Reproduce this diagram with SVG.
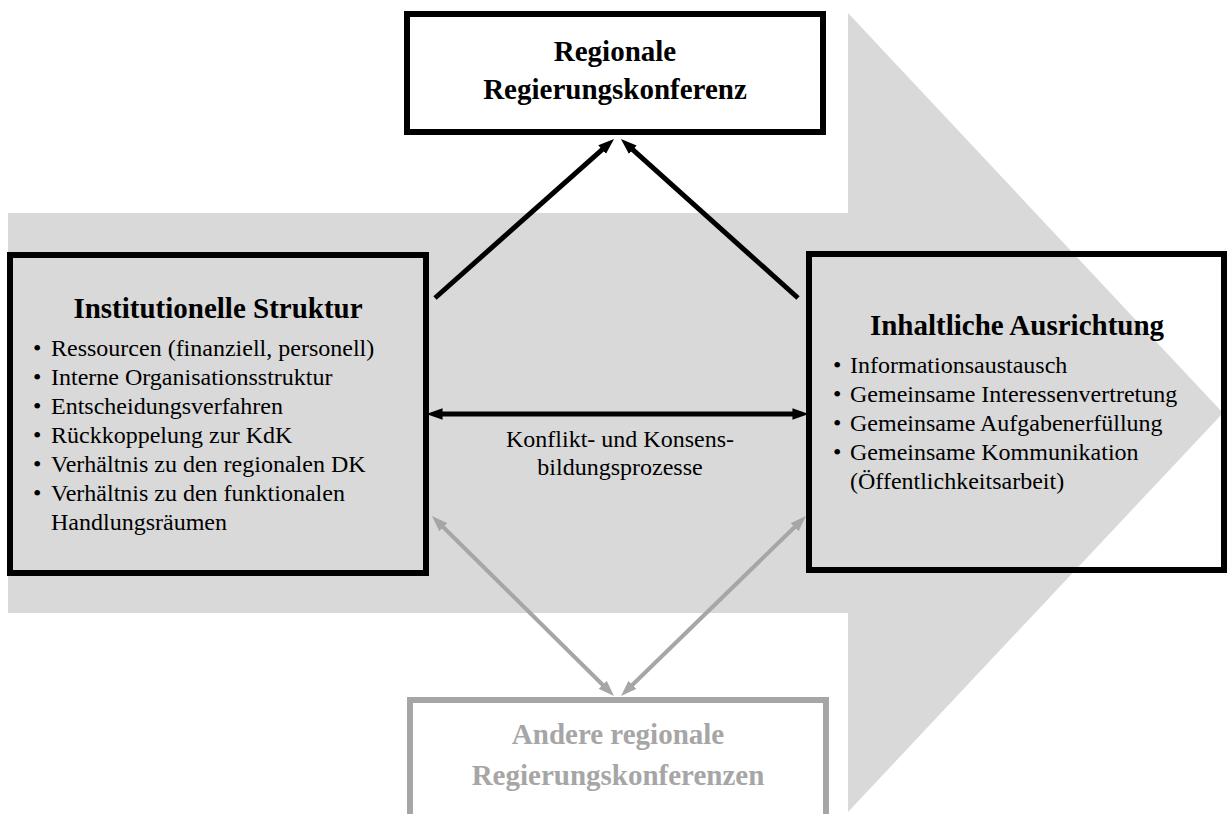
<svg xmlns="http://www.w3.org/2000/svg" width="1227" height="814" viewBox="0 0 1227 814">
<style>
text{font-family:"Liberation Serif","Times New Roman",serif;fill:#000}
.t{font-size:29px;font-weight:bold;text-anchor:middle}
.b{font-size:24px}
.m{font-size:24px;text-anchor:middle}
.box{fill:none;stroke:#000;stroke-width:6}
.gbox{fill:none;stroke:#a6a6a6;stroke-width:6}
.gt{fill:#a6a6a6}
.k{stroke:#000;stroke-width:5;fill:none}
.g{stroke:#a6a6a6;stroke-width:4;fill:none}
</style>
<defs>
<marker id="ak" markerUnits="userSpaceOnUse" markerWidth="16" markerHeight="12" refX="4" refY="5" orient="auto-start-reverse" viewBox="0 0 14 10"><path d="M0,0 L14,5 L0,10 z" fill="#000"/></marker>
<marker id="ag" markerUnits="userSpaceOnUse" markerWidth="16" markerHeight="12" refX="4" refY="5" orient="auto-start-reverse" viewBox="0 0 14 10"><path d="M0,0 L14,5 L0,10 z" fill="#a6a6a6"/></marker>
</defs>
<rect width="1227" height="814" fill="#fff"/>
<polygon id="bigArrow" points="8,213 848,213 848,13 1223,413 848,812 848,613 8,613" fill="#d9d9d9"/>
<g id="top">
<rect class="box" x="407" y="14" width="416" height="118" fill="#fff"/>
<text class="t" x="615" y="61">Regionale</text>
<text class="t" x="615" y="99">Regierungskonferenz</text>
</g>
<g id="left">
<rect class="box" x="10" y="255" width="416" height="318"/>
<text class="t" x="218" y="318">Institutionelle Struktur</text>
<g class="b">
<text class="b" x="33" y="356">•</text><text class="b" x="51" y="356">Ressourcen (finanziell, personell)</text>
<text class="b" x="33" y="385">•</text><text class="b" x="51" y="385">Interne Organisationsstruktur</text>
<text class="b" x="33" y="414">•</text><text class="b" x="51" y="414">Entscheidungsverfahren</text>
<text class="b" x="33" y="443">•</text><text class="b" x="51" y="443">Rückkoppelung zur KdK</text>
<text class="b" x="33" y="472">•</text><text class="b" x="51" y="472">Verhältnis zu den regionalen DK</text>
<text class="b" x="33" y="501">•</text><text class="b" x="51" y="501">Verhältnis zu den funktionalen</text>
<text class="b" x="51" y="530">Handlungsräumen</text>
</g>
</g>
<g id="right">
<rect class="box" x="809" y="254" width="415" height="316"/>
<text class="t" x="1017" y="335">Inhaltliche Ausrichtung</text>
<text class="b" x="833" y="373">•</text><text class="b" x="850" y="373">Informationsaustausch</text>
<text class="b" x="833" y="402">•</text><text class="b" x="850" y="402">Gemeinsame Interessenvertretung</text>
<text class="b" x="833" y="431">•</text><text class="b" x="850" y="431">Gemeinsame Aufgabenerfüllung</text>
<text class="b" x="833" y="460">•</text><text class="b" x="850" y="460">Gemeinsame Kommunikation</text>
<text class="b" x="850" y="489">(Öffentlichkeitsarbeit)</text>
</g>
<g id="bottom">
<rect class="gbox" x="410" y="700" width="416" height="117"/>
<text class="t gt" x="618" y="744">Andere regionale</text>
<text class="t gt" x="618" y="785">Regierungskonferenzen</text>
</g>
<g id="connectors">
<line class="k" x1="435" y1="298" x2="605.5" y2="146.6" marker-end="url(#ak)"/>
<line class="k" x1="798" y1="298" x2="629.4" y2="146.7" marker-end="url(#ak)"/>
<line class="k" x1="438" y1="414" x2="797" y2="414" marker-start="url(#ak)" marker-end="url(#ak)"/>
<line class="g" x1="440.1" y1="524" x2="605.9" y2="688" marker-start="url(#ag)" marker-end="url(#ag)"/>
<line class="g" x1="797.8" y1="524" x2="629.2" y2="688" marker-start="url(#ag)" marker-end="url(#ag)"/>
<text class="m" x="620" y="447">Konflikt- und Konsens-</text>
<text class="m" x="620" y="475">bildungsprozesse</text>
</g>
</svg>
